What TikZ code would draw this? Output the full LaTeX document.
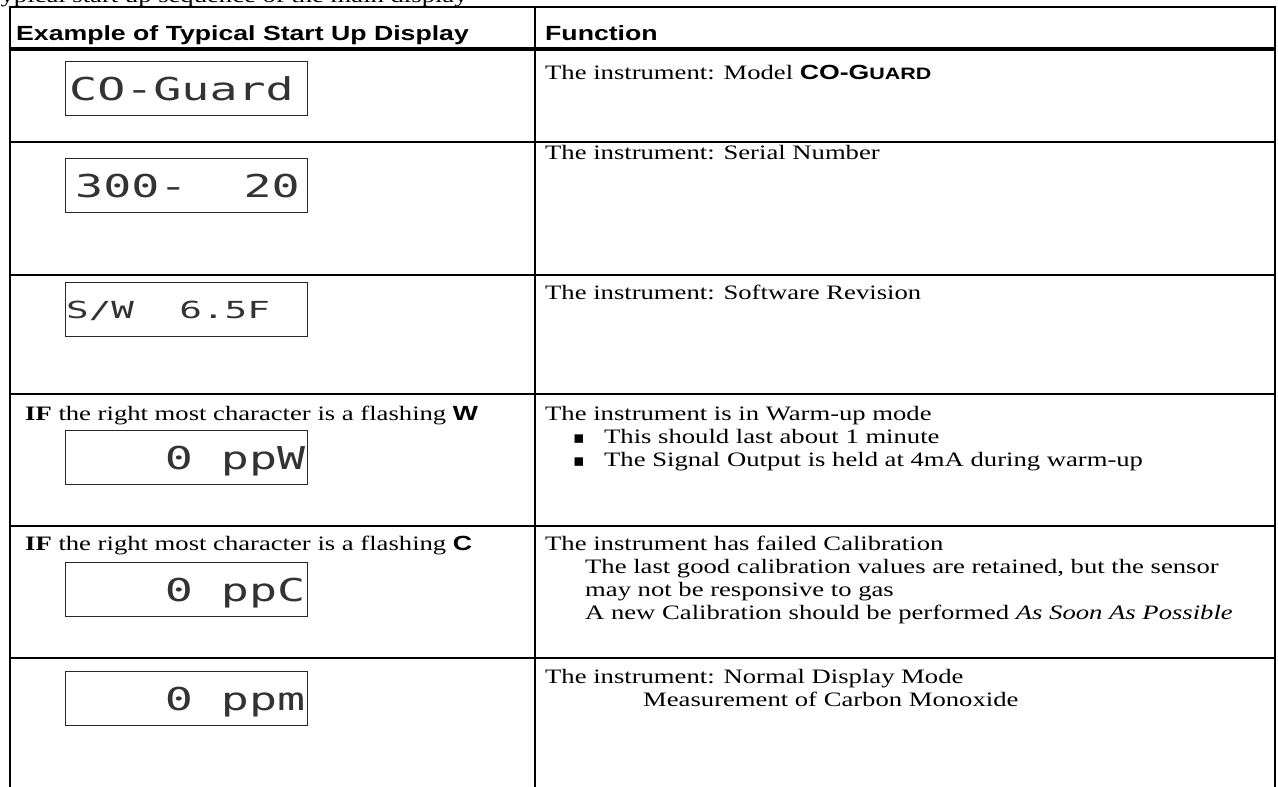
\documentclass[tikz,border=0pt]{standalone}
\usepackage{fontspec}
\setmainfont{Liberation Serif}[FakeStretch=1.3]
\setsansfont{Liberation Sans}[FakeStretch=1.3]
\newfontfamily\lcdfont{DejaVu Sans Mono}[FakeStretch=1.48]
\newfontfamily\lcdsmallfont{DejaVu Sans Mono}[FakeStretch=1.6]
\newfontfamily\bulletfont{DejaVu Sans}
\newcommand\cellfont{\fontsize{20.5}{23.3}\selectfont}
\begin{document}
\begin{tikzpicture}[x=1pt,y=-1pt,
  rule/.style={line width=2.6pt},
  headrule/.style={line width=3.6pt},
  txt/.style={anchor=base west,inner sep=0pt,font=\cellfont},
  head/.style={anchor=base west,inner sep=0pt,font=\cellfont\sffamily\bfseries},
  lcdbox/.style={draw=black!85,line width=1.4pt,anchor=north west,minimum width=242pt,minimum height=54pt,inner sep=0pt},
  lcdbig/.style={inner sep=0pt,text=black!80,font=\lcdfont\fontsize{31.5}{31.5}\selectfont},
  lcdsmall/.style={inner sep=0pt,text=black!80,font=\lcdsmallfont\fontsize{23.5}{23.5}\selectfont},
  bul/.style={anchor=base west,inner sep=0pt,font=\bulletfont\fontsize{17}{17}\selectfont}]
\useasboundingbox (0,0) rectangle (1278,787);
\fill[white] (0,0) rectangle (1278,787);
% intro line, cut by the top edge
\node[txt] (intro) at (-14,2) {Typical start up sequence of the main display};
% table grid
\coordinate (tl) at (10,7);   \coordinate (tm) at (535,7);   \coordinate (tr) at (1275,7);
\coordinate (bl) at (10,790); \coordinate (bm) at (535,790); \coordinate (br) at (1275,790);
\draw[rule] (tl) -- (bl);
\draw[rule] (tm) -- (bm);
\draw[rule] (tr) -- (br);
\draw[rule] ([xshift=-1.3pt]tl) -- ([xshift=1.3pt]tr);
\coordinate (h1l) at (8.7,49); \coordinate (h1r) at (1276.3,49);
\draw[headrule] (h1l) -- (h1r);
\foreach \yy/\nm in {142/h2,275/h3,394/h4,526/h5,658/h6}{
  \coordinate (\nm l) at (8.7,\yy); \coordinate (\nm r) at (1276.3,\yy);
  \draw[rule] (\nm l) -- (\nm r);}
% header
\node[head] (hA) at (16,40.5) {Example of Typical Start Up Display};
\node[head] (hB) at (545,40.5) {Function};
% right column
\node[txt] (f1) at (545,79) {The instrument: Model {\sffamily\bfseries CO-G{\fontsize{16.5}{16.5}\selectfont UARD}}};
\node[txt] (f2) at (545,159) {The instrument: Serial Number};
\node[txt] (f3) at (545,299) {The instrument: Software Revision};
\node[txt] (f4a) at (545,420) {The instrument is in Warm-up mode};
\node[bul] (b1) at (573,443) {▪};
\node[txt] (f4b) at (604,443.5) {This should last about 1 minute};
\node[bul] (b2) at (573,466.3) {▪};
\node[txt] (f4c) at (604,466.8) {The Signal Output is held at 4mA during warm-up};
\node[txt] (f5a) at (545,550) {The instrument has failed Calibration};
\node[txt] (f5b) at (585,573.3) {The last good calibration values are retained, but the sensor};
\node[txt] (f5c) at (585,596.6) {may not be responsive to gas};
\node[txt] (f5d) at (585,619.9) {A new Calibration should be performed \textit{As Soon As Possible}};
\node[txt] (f6a) at (545,683) {The instrument: Normal Display Mode};
\node[txt] (f6b) at (643,706.3) {Measurement of Carbon Monoxide};
% left column conditions
\node[txt] (c4) at (25,420) {\textbf{IF} the right most character is a flashing {\sffamily\bfseries W}};
\node[txt] (c5) at (25,550) {\textbf{IF} the right most character is a flashing {\sffamily\bfseries C}};
% displays
\node[lcdbox] (d1) at (65,61) {};
\node[lcdbig,anchor=base west] (t1) at ([xshift=4pt,yshift=16pt]d1.south west) {CO-Guard};
\node[lcdbox] (d2) at (65,158) {};
\node[lcdbig,anchor=base west] (t2) at ([xshift=10pt,yshift=16pt]d2.south west) {300-~~20};
\node[lcdbox] (d3) at (65,282) {};
\node[lcdsmall,anchor=base west] (t3) at ([xshift=1pt,yshift=19pt]d3.south west) {S/W~~6.5F};
\node[lcdbox] (d4) at (65,430) {};
\node[lcdbig,anchor=base east] (t4) at ([xshift=-3pt,yshift=16pt]d4.south east) {0~ppW};
\node[lcdbox] (d5) at (65,562) {};
\node[lcdbig,anchor=base east] (t5) at ([xshift=-3pt,yshift=16pt]d5.south east) {0~ppC};
\node[lcdbox] (d6) at (65,671) {};
\node[lcdbig,anchor=base east] (t6) at ([xshift=-3pt,yshift=16pt]d6.south east) {0~ppm};
\end{tikzpicture}
\end{document}
